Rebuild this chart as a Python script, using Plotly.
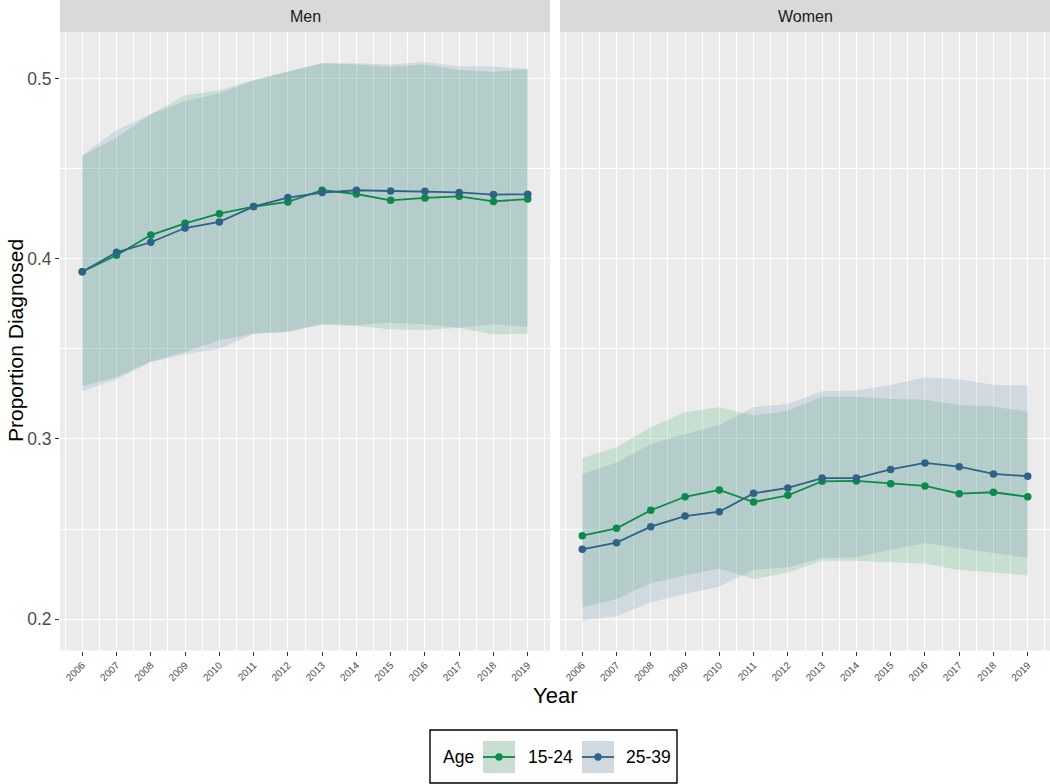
import plotly.graph_objects as go

years = list(range(2006, 2020))
year_labels = [str(y) for y in years]
panels = ["Men", "Women"]
age_groups = ["15-24", "25-39"]

# Men
men_1524_mean = [0.3929, 0.4021, 0.4133, 0.4198, 0.4252, 0.4291, 0.4317, 0.4382, 0.4361, 0.4326, 0.4339, 0.4348, 0.4320, 0.4333]
men_1524_lower = [0.3294, 0.3344, 0.3430, 0.3483, 0.3548, 0.3585, 0.3596, 0.3635, 0.3628, 0.3610, 0.3606, 0.3618, 0.3581, 0.3585]
men_1524_upper = [0.4572, 0.4674, 0.4804, 0.4909, 0.4937, 0.4993, 0.5041, 0.5087, 0.5081, 0.5068, 0.5081, 0.5050, 0.5039, 0.5056]
men_2539_mean = [0.3929, 0.4037, 0.4093, 0.4172, 0.4206, 0.4291, 0.4341, 0.4369, 0.4382, 0.4378, 0.4376, 0.4370, 0.4358, 0.4359]
men_2539_lower = [0.3267, 0.3332, 0.3428, 0.3472, 0.3502, 0.3585, 0.3596, 0.3640, 0.3633, 0.3646, 0.3637, 0.3618, 0.3637, 0.3622]
men_2539_upper = [0.4578, 0.4715, 0.4804, 0.4878, 0.4919, 0.4993, 0.5041, 0.5087, 0.5087, 0.5080, 0.5094, 0.5071, 0.5069, 0.5056]

# Women
women_1524_mean = [0.2463, 0.2504, 0.2604, 0.2679, 0.2717, 0.2650, 0.2687, 0.2765, 0.2767, 0.2752, 0.2739, 0.2696, 0.2704, 0.2679]
women_1524_lower = [0.2065, 0.2111, 0.2200, 0.2241, 0.2281, 0.2222, 0.2259, 0.2324, 0.2324, 0.2315, 0.2309, 0.2272, 0.2259, 0.2241]
women_1524_upper = [0.2894, 0.2954, 0.3065, 0.3148, 0.3176, 0.3130, 0.3157, 0.3235, 0.3235, 0.3222, 0.3218, 0.3189, 0.3180, 0.3152]
women_2539_mean = [0.2387, 0.2424, 0.2513, 0.2572, 0.2596, 0.2698, 0.2728, 0.2783, 0.2783, 0.2831, 0.2867, 0.2846, 0.2806, 0.2793]
women_2539_lower = [0.1991, 0.2015, 0.2093, 0.2139, 0.2180, 0.2274, 0.2287, 0.2339, 0.2343, 0.2385, 0.2421, 0.2393, 0.2365, 0.2339]
women_2539_upper = [0.2806, 0.2870, 0.2972, 0.3028, 0.3078, 0.3176, 0.3194, 0.3265, 0.3269, 0.3300, 0.3343, 0.3330, 0.3302, 0.3296]

y_ticks = [0.2, 0.3, 0.4, 0.5]
y_tick_labels = ["0.2", "0.3", "0.4", "0.5"]

line_colors = {"15-24": "#0B8A49", "25-39": "#2E6287"}
fill_colors = {"15-24": "rgba(60,170,100,0.2)", "25-39": "rgba(100,140,180,0.2)"}
key_colors = {"15-24": "rgb(200,222,208)", "25-39": "rgb(208,216,224)"}

data = {
    ("Men", "15-24"): (men_1524_mean, men_1524_lower, men_1524_upper),
    ("Men", "25-39"): (men_2539_mean, men_2539_lower, men_2539_upper),
    ("Women", "15-24"): (women_1524_mean, women_1524_lower, women_1524_upper),
    ("Women", "25-39"): (women_2539_mean, women_2539_lower, women_2539_upper),
}

W, H = 1050, 784
def px(x):
    return x / W
def py(y):
    return 1 - y / H

fig = go.Figure()
axis_ids = {"Men": ("x", "y"), "Women": ("x2", "y2")}

for panel in panels:
    xa, ya = axis_ids[panel]
    for age in age_groups:
        mean, lo, hi = data[(panel, age)]
        fig.add_trace(go.Scatter(
            x=years + years[::-1], y=hi + lo[::-1],
            fill="toself", fillcolor=fill_colors[age], line=dict(width=0),
            mode="lines", hoverinfo="skip", showlegend=False, xaxis=xa, yaxis=ya))
    for age in age_groups:
        mean, lo, hi = data[(panel, age)]
        fig.add_trace(go.Scatter(
            x=years, y=mean, mode="lines+markers", name=age,
            line=dict(color=line_colors[age], width=1.8),
            marker=dict(color=line_colors[age], size=7.5),
            showlegend=False, xaxis=xa, yaxis=ya))

grid = dict(showgrid=True, gridcolor="white", gridwidth=1.1, zeroline=False, showline=False)
xcommon = dict(range=[2005.35, 2019.65], tickmode="array", tickvals=years, ticktext=year_labels,
               tickangle=-45, tickfont=dict(family="Liberation Sans, Arial", size=10, color="#4D4D4D"),
               ticks="outside", ticklen=4, tickwidth=1, tickcolor="#333333",
               minor=dict(tick0=2005.5, dtick=1, showgrid=True, gridcolor="white", gridwidth=0.55, ticks=""),
               **grid)
ycommon = dict(range=[0.1825, 0.5261], tickmode="array", tickvals=y_ticks, ticktext=y_tick_labels,
               minor=dict(tickvals=[0.25, 0.35, 0.45], showgrid=True, gridcolor="white", gridwidth=0.55, ticks=""),
               domain=[133.5 / H, 752 / H], **grid)

fig.update_layout(
    width=W, height=H, margin=dict(l=0, r=0, t=0, b=0),
    paper_bgcolor="white", plot_bgcolor="#EBEBEB",
    font=dict(family="Liberation Sans, Arial", color="black"),
    xaxis=dict(domain=[px(60), px(550)], anchor="y", **xcommon),
    xaxis2=dict(domain=[px(560), 1.0], anchor="y2", **xcommon),
    yaxis=dict(anchor="x", ticks="outside", ticklen=4, tickwidth=1, tickcolor="#333333",
               tickfont=dict(family="Liberation Sans, Arial", size=17.5, color="#4D4D4D"), **ycommon),
    yaxis2=dict(anchor="x2", matches="y", showticklabels=False, ticks="", **ycommon),
    showlegend=False,
)

shapes = []
annotations = []
# facet strips
for panel, (x0, x1) in zip(panels, [(60, 550), (560, 1050)]):
    shapes.append(dict(type="rect", xref="paper", yref="paper", x0=px(x0), x1=px(x1), y0=py(32), y1=1,
                       fillcolor="#D9D9D9", line=dict(width=0), layer="below"))
    annotations.append(dict(text=panel, xref="paper", yref="paper", x=px((x0 + x1) / 2), y=py(16.5),
                            showarrow=False, xanchor="center", yanchor="middle",
                            font=dict(size=16, color="#1A1A1A")))

# axis titles
annotations.append(dict(text="Year", xref="paper", yref="paper", x=px(555), y=py(695),
                        showarrow=False, xanchor="center", yanchor="middle", font=dict(size=22, color="black")))
annotations.append(dict(text="Proportion Diagnosed", xref="paper", yref="paper", x=px(15), y=py(341),
                        showarrow=False, xanchor="center", yanchor="middle", textangle=-90,
                        font=dict(size=21, color="black")))

# legend (drawn manually to mimic ggplot key backgrounds)
shapes.append(dict(type="rect", xref="paper", yref="paper", x0=px(430), x1=px(677), y0=py(783), y1=py(730),
                   fillcolor="white", line=dict(color="black", width=1.4)))
annotations.append(dict(text="Age", xref="paper", yref="paper", x=px(441), y=py(757), showarrow=False,
                        xanchor="left", yanchor="middle", font=dict(size=17.5, color="black")))
for age, kx, tx in zip(age_groups, [483, 582], [526, 624]):
    shapes.append(dict(type="rect", xref="paper", yref="paper", x0=px(kx), x1=px(kx + 32), y0=py(773), y1=py(741),
                       fillcolor=key_colors[age], line=dict(width=0)))
    shapes.append(dict(type="line", xref="paper", yref="paper", x0=px(kx), x1=px(kx + 32), y0=py(757), y1=py(757),
                       line=dict(color=line_colors[age], width=1.8)))
    shapes.append(dict(type="circle", xref="paper", yref="paper", x0=px(kx + 16 - 3.7), x1=px(kx + 16 + 3.7),
                       y0=py(757 + 3.7), y1=py(757 - 3.7), fillcolor=line_colors[age], line=dict(width=0)))
    annotations.append(dict(text=age, xref="paper", yref="paper", x=px(tx), y=py(757), showarrow=False,
                            xanchor="left", yanchor="middle", font=dict(size=17.5, color="black")))

fig.update_layout(shapes=shapes, annotations=annotations)
fig.write_html("out.html", config={"displayModeBar": False},
               post_script="document.body.style.margin='0';document.body.style.overflow='hidden';")
